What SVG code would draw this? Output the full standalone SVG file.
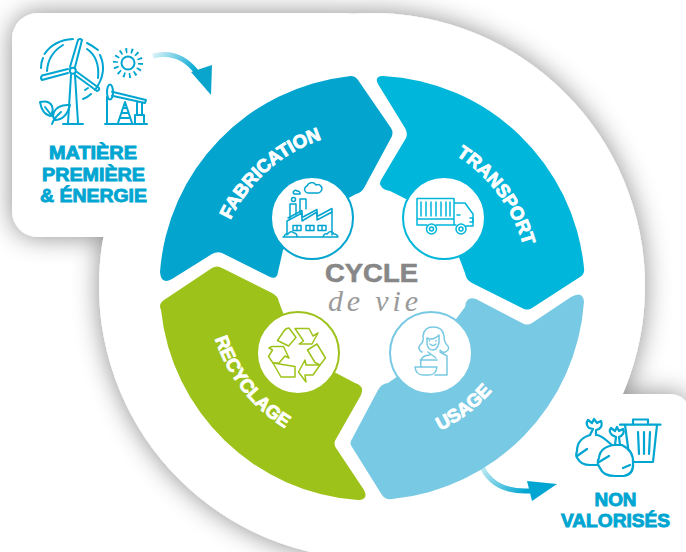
<svg xmlns="http://www.w3.org/2000/svg" width="686" height="552" viewBox="0 0 686 552">
<defs>
<style>
.lbl{font-family:"Liberation Sans",Arial,sans-serif;font-weight:700;fill:#fff;stroke:#fff;stroke-width:.9;font-size:18.5px;text-anchor:middle}
.ttl{font-family:"Liberation Sans",Arial,sans-serif;font-weight:700;fill:#00a6d1;stroke:#00a6d1;stroke-width:.9;font-size:18.5px;text-anchor:middle}
.ic{fill:none;stroke-width:1.5;stroke-linecap:round;stroke-linejoin:round}
.ib{fill:none;stroke:#00a6d1;stroke-width:2;stroke-linecap:round;stroke-linejoin:round}
.disc{fill:#fff;stroke-width:2}
</style>
<filter id="sh" x="-20%" y="-20%" width="140%" height="140%"><feDropShadow dx="0" dy="0" stdDeviation="13" flood-color="#000" flood-opacity=".45"/></filter>
<linearGradient id="g1" gradientUnits="userSpaceOnUse" x1="153" y1="55" x2="205" y2="85"><stop offset="0" stop-color="#00a6d1" stop-opacity=".15"/><stop offset=".75" stop-color="#00a6d1"/></linearGradient>
<linearGradient id="g2" gradientUnits="userSpaceOnUse" x1="480" y1="460" x2="525" y2="492"><stop offset="0" stop-color="#00a6d1" stop-opacity=".15"/><stop offset="1" stop-color="#00a6d1"/></linearGradient>
<path id="pf" d="M218.1,319.3A157,157 0 0 1 421.8,139.1"/>
<path id="pt" d="M354,132A157,157 0 0 1 516.1,350.3"/>
<path id="pr" d="M219,226.2A165,165 0 0 0 395,451.4"/>
<path id="pu" d="M311.5,434A158,158 0 0 0 528.6,267.3"/>
</defs>

<g id="background" filter="url(#sh)" fill="#fff">
<circle cx="372" cy="286" r="273"/>
<rect x="12" y="13" width="360" height="224" rx="26"/>
<rect x="400" y="394" width="290" height="200" rx="20"/>
</g>

<g id="connectors">
<path d="M153,56Q180,49 198,74" fill="none" stroke="url(#g1)" stroke-width="5"/>
<path d="M191,72L212,65L211,95Z" fill="#0aa5cc"/>
<path d="M480,462Q491,493 530,491" fill="none" stroke="url(#g2)" stroke-width="5"/>
<path d="M527,481L557,484L532,501Z" fill="#00a6d1"/>
</g>

<g id="fabrication">
<path d="M349,76.2Q355,75.5 358,80L391,128Q394,133 391,138L364,188Q361,193 356,194L312,218L283,250L278,272Q277,280 270,277L222,253Q217,251 212,254L172,279Q161,285 160,272A213,213 0 0 1 349,76.2Z" fill="#03a5cf"/>
<circle class="disc" cx="312" cy="218" r="41" stroke="#03a5cf"/>
<text class="lbl"><textPath href="#pf" startOffset="50%">FABRICATION</textPath></text>
<g class="ic" stroke="#03a5cf">
<path d="M287,235V221L302,213V221L317,212V220L332,212V235"/>
<path d="M288,218L302,210.500V217M303,217L317,209.500V216M318,216L332,208.500V212"/>
<path d="M290,219V204H296V215M300,213V199H306V209"/>
<circle cx="293.500" cy="199.500" r="2"/>
<path d="M294,194a2,2 0 0 1 3,-3a2.500,2.500 0 0 1 3,3z"/>
<path d="M305,191a3.500,3.500 0 0 1 2,-5a5,5 0 0 1 9,-1a4,4 0 0 1 5,6q-1,2 -3,2h-10q-2,0 -3,-2z"/>
<rect x="293" y="225.500" width="8" height="5"/><path d="M297,225.500v5"/>
<rect x="306" y="225.500" width="8" height="5"/><path d="M310,225.500v5"/>
<rect x="318" y="225.500" width="8" height="5"/><path d="M322,225.500v5"/>
<path d="M283,237H338M284,237q1,-4 4,-3q3,-4 6,-1q3,0 3,4M323,237q1,-4 4,-3q4,-5 7,0q3,0 4,3"/>
</g>
</g>

<g id="transport">
<path d="M378,84Q374,76 383,76A213,213 0 0 1 584,268Q585,274 580,277L532,308Q527,311 522,308L472,283Q466,280 465,273L444,218L390,191Q383,190 381,186Q379,184 381,180L406,138Q408,133 405,128Z" fill="#00b6da"/>
<circle class="disc" cx="444" cy="218" r="41" stroke="#00b6da"/>
<text class="lbl"><textPath href="#pt" startOffset="50%">TRANSPORT</textPath></text>
<g class="ic" stroke="#00b6da">
<path d="M427,225H417V198.500H454V225M417,219H454M436,225H456M466,226H473V214L465,203H454"/>
<path d="M421,202V216M426,202V216M431,202V216M436,202V216M441,202V216M446,202V216M450,202V216M457,215H460M470,218H473V222H470"/>
<circle cx="431.500" cy="229" r="5"/><circle cx="431.500" cy="229" r="2"/>
<circle cx="461" cy="229" r="5"/><circle cx="461" cy="229" r="2"/>
</g>
</g>

<g id="usage">
<path d="M352,447Q349,443 352,439L378,390Q381,384 388,383L431,353L465,307Q466,296 476,299L522,323Q527,326 532,323L571,297Q583,290 584,302A213,213 0 0 1 392,499Q385,500 382,495Z" fill="#78c9e3"/>
<circle class="disc" cx="431" cy="353" r="41" stroke="#78c9e3"/>
<text class="lbl"><textPath href="#pu" startOffset="50%">USAGE</textPath></text>
<g class="ic" stroke="#78c9e3">
<path d="M422,352Q417,349 420,345Q424,342 423,336Q424,327 433,327Q443,327 444,336Q444,343 448,346Q450,350 445,352Q442,353 440,350"/>
<path d="M427,338Q433,341 439,335V343Q437,350 433,350Q428,350 427,344Z"/>
<path d="M430,344q3,3 6,0M429.500,340.500v.5M436,340.500v.5"/>
<path d="M440,352L447,356V375H435M428,352L436,358"/>
<path d="M421,367Q419,355 430,355M420,360H437"/>
<path d="M415,367H437Q436,375 429,375H423Q416,375 415,367Z"/>
</g>
</g>

<g id="recyclage">
<path d="M161,310Q158,304 164,300L212,268Q217,265 222,268L272,293Q278,296 279,302L298,353L355,383Q365,386 361,395L336,439Q333,443 336,448L364,490Q369,500 358,500A213,213 0 0 1 161,310Z" fill="#9dc21a"/>
<circle class="disc" cx="298" cy="353" r="41" stroke="#9dc21a"/>
<text class="lbl"><textPath href="#pr" startOffset="50%">RECYCLAGE</textPath></text>
<g class="ic" stroke="#9dc21a">
<path d="M277.500,340.500L284,331Q286,328 289,328L296,337.500L288.500,346Z"/>
<path d="M295,328.500H309L313,336L318,333L312,344H299L303.500,341Z"/>
<path d="M307.500,350L317,344L325.500,358L320,365L315,362.500Z"/>
<path d="M298.500,372L305,360L306,365H320L313,375H305L306,382Z"/>
<path d="M273,363L295,366.500V377H281Z"/>
<path d="M269,348L272,346.500H283.500L289,358L285,356L279,363H273L268.500,356.500L272.500,350Z"/>
</g>
</g>

<g id="matiere">
<g class="ib">
<path d="M70,67L78,40Q80,38 82,40L75,67M68,69L42,75.500Q40,78 42,80L68,73M77,72L99,88Q100,90 97,91L75,75"/>
<circle cx="72.800" cy="70.700" r="3"/>
<path d="M71,75L68,123M75,75L78,123M63,124H83"/>
<path d="M41,68Q41,62 43,58M44.500,54Q54,40 73,39M47,71Q48,54 63,45M87,43Q93,46 98,50M87,49Q100,58 98,78M100,55Q108,72 95,90M91,94Q88,97 83,99M88,88L85,90"/>
<circle cx="128" cy="63" r="6.500"/>
<circle cx="128" cy="63" r="12.500" stroke-width="5" stroke-dasharray="1.800 3.800" stroke-linecap="butt"/>
<path d="M105,124H147M107,123V97"/>
<ellipse cx="110" cy="92" rx="3" ry="7.500"/>
<path d="M112,91.700L146,100L145,103L112,95.700M118,123L125,102L132,123M122,113H128M120.500,118H129.500M123.500,108H126.500M137,103V115M142,103V115M135,123V115H144V123"/>
<path d="M40,102Q49,100 52,106Q54,112 50,116Q42,114 40,102ZM70,105Q58,104 54,112Q52,118 55,120Q66,120 70,105ZM52,124Q54,118 61,112M45,107L52,116"/>
</g>
<text class="ttl" x="93" y="159" textLength="88" lengthAdjust="spacingAndGlyphs">MATIÈRE</text>
<text class="ttl" x="93.500" y="181" textLength="103" lengthAdjust="spacingAndGlyphs">PREMIÈRE</text>
<text class="ttl" x="93.500" y="202" textLength="107" lengthAdjust="spacingAndGlyphs">&amp; ÉNERGIE</text>
</g>

<g id="non-valorises">
<g class="ib" style="stroke-width:2.200">
<path d="M620,424.700H660.500M633,424V419.500H648V424M625,425L630,462H653L657,425M638,432L639,454M644,432V454M650,432L649,454"/>
<path d="M590,435Q577,439 577,451Q575,456 578,459Q581,465 590,465L606,465L620,452L606,440Q600,435 596,435" fill="#fff"/>
<path d="M590,435L593,429L589,428Q585,424 588,420L592,423L594,419L597,423L601,421Q603,426 599,429L596,430L596,435M577,456L587,449"/>
<path d="M614,445Q600,447 599,458Q596,463 600,468Q603,476 615,476H624Q634,474 633,463Q634,451 622,445Z" fill="#fff"/>
<path d="M615,445L616,437L612,435Q608,431 611,428L615,431L617,427L619,431L623,429Q625,433 621,436L619,437L620,445M599,462L609,456M623,468L630,465"/>
</g>
<text class="ttl" x="615.500" y="505.700" textLength="42" lengthAdjust="spacingAndGlyphs">NON</text>
<text class="ttl" x="615.500" y="526.700" textLength="109" lengthAdjust="spacingAndGlyphs">VALORISÉS</text>
</g>

<g id="centre">
<text x="371.500" y="281.500" font-family="'Liberation Sans',Arial,sans-serif" font-weight="700" font-size="26.500" fill="#878787" stroke="#878787" stroke-width=".6" text-anchor="middle" textLength="93" lengthAdjust="spacingAndGlyphs">CYCLE</text>
<text x="373" y="311" font-family="'Liberation Serif','Times New Roman',serif" font-style="italic" font-size="30" fill="#9a9a9a" text-anchor="middle" textLength="90">de vie</text>
</g>
</svg>
